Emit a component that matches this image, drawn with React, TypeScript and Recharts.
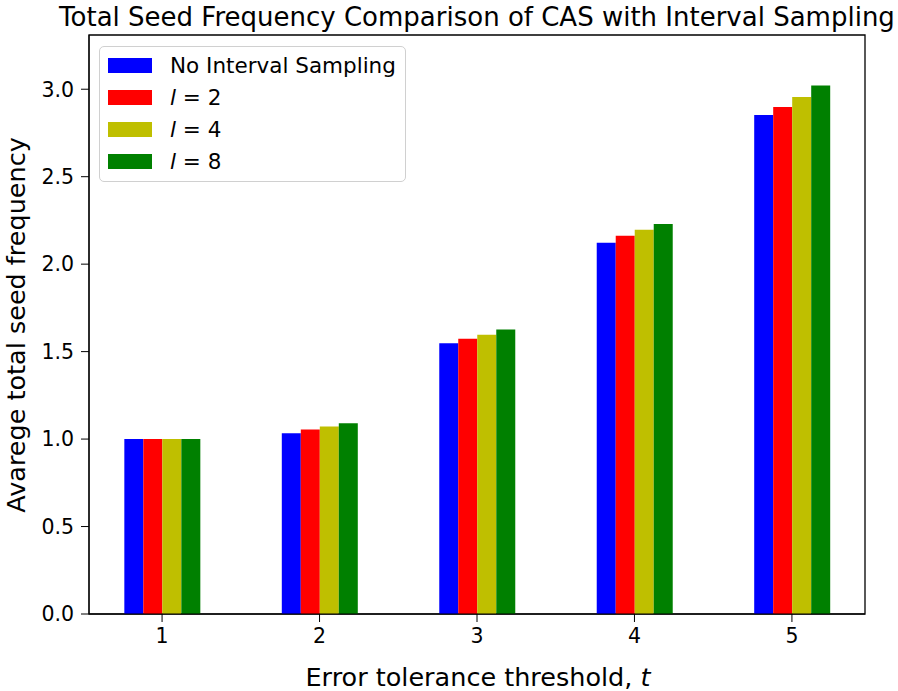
import React from "react"
import { BarChart, Bar, XAxis, YAxis, ReferenceArea } from "recharts"

const thresholds = [1, 2, 3, 4, 5]
const noInterval = [1.0, 1.034, 1.548, 2.122, 2.852]
const interval2 = [1.0, 1.055, 1.573, 2.162, 2.898]
const interval4 = [1.0, 1.072, 1.597, 2.196, 2.955]
const interval8 = [1.0, 1.09, 1.626, 2.23, 3.022]
const yTicks = [0, 0.5, 1.0, 1.5, 2.0, 2.5, 3.0]

const SERIES = [
  { key: "none", label: "No Interval Sampling", l: null, color: "#0000ff", values: noInterval },
  { key: "l2", label: "", l: "2", color: "#ff0000", values: interval2 },
  { key: "l4", label: "", l: "4", color: "#bfbf00", values: interval4 },
  { key: "l8", label: "", l: "8", color: "#008000", values: interval8 },
]

const data = thresholds.map((t, i) => {
  const row: Record<string, number> = { t }
  SERIES.forEach((s) => (row[s.key] = s.values[i]))
  return row
})

const FONT = "DejaVu Sans"
const X_DOMAIN: [number, number] = [0.536, 5.464]
const Y_DOMAIN: [number, number] = [0, 3.31]
const TICK = { fill: "#000", fontFamily: FONT, fontSize: 20.5 }

function LegendBox() {
  return (
    <div
      style={{
        position: "absolute",
        left: 99,
        top: 46,
        width: 307,
        height: 136,
        border: "1.5px solid #d0d0d0",
        borderRadius: 5,
        background: "rgba(255,255,255,0.8)",
        boxSizing: "border-box",
        fontFamily: FONT,
        fontSize: 21.5,
        color: "#000",
        paddingTop: 2,
      }}
    >
      {SERIES.map((s) => (
        <div key={s.key} style={{ display: "flex", alignItems: "center", height: 32 }}>
          <span style={{ display: "inline-block", width: 44, height: 15, marginLeft: 8, background: s.color }} />
          <span style={{ marginLeft: 18, whiteSpace: "nowrap" }}>
            {s.l === null ? s.label : (
              <>
                <i>l</i> = {s.l}
              </>
            )}
          </span>
        </div>
      ))}
    </div>
  )
}

export default function App() {
  return (
    <div style={{ position: "absolute", left: 0, top: 0, width: 898, height: 691, background: "#fff" }}>
      <BarChart
        width={898}
        height={691}
        data={data}
        margin={{ top: 35, right: 33, bottom: 37, left: 29 }}
        barGap={0}
        barSize={19}
      >
        <text x={477} y={26} textAnchor="middle" fontFamily={FONT} fontSize={26} fill="#000">
          Total Seed Frequency Comparison of CAS with Interval Sampling
        </text>
        <text x={478} y={686} textAnchor="middle" fontFamily={FONT} fontSize={25.5} fill="#000">
          Error tolerance threshold, <tspan fontStyle="italic">t</tspan>
        </text>
        <text
          x={16}
          y={325}
          transform="rotate(-90 16 325)"
          textAnchor="middle"
          dominantBaseline="central"
          fontFamily={FONT}
          fontSize={25.5}
          fill="#000"
        >
          Avarege total seed frequency
        </text>
        <XAxis
          dataKey="t"
          type="number"
          domain={X_DOMAIN}
          ticks={thresholds}
          interval={0}
          height={40}
          stroke="#000"
          tickSize={8}
          tickMargin={6}
          tick={TICK}
        />
        <YAxis
          type="number"
          domain={Y_DOMAIN}
          ticks={yTicks}
          width={60}
          stroke="#000"
          tickSize={8}
          tickMargin={7}
          tickFormatter={(v: number) => v.toFixed(1)}
          tick={TICK}
        />
        <ReferenceArea x1={X_DOMAIN[0]} x2={X_DOMAIN[1]} y1={0} y2={Y_DOMAIN[1]} fill="none" stroke="#000" strokeWidth={1.3} />
        {SERIES.map((s) => (
          <Bar key={s.key} dataKey={s.key} fill={s.color} isAnimationActive={false} />
        ))}
      </BarChart>
      <LegendBox />
    </div>
  )
}
